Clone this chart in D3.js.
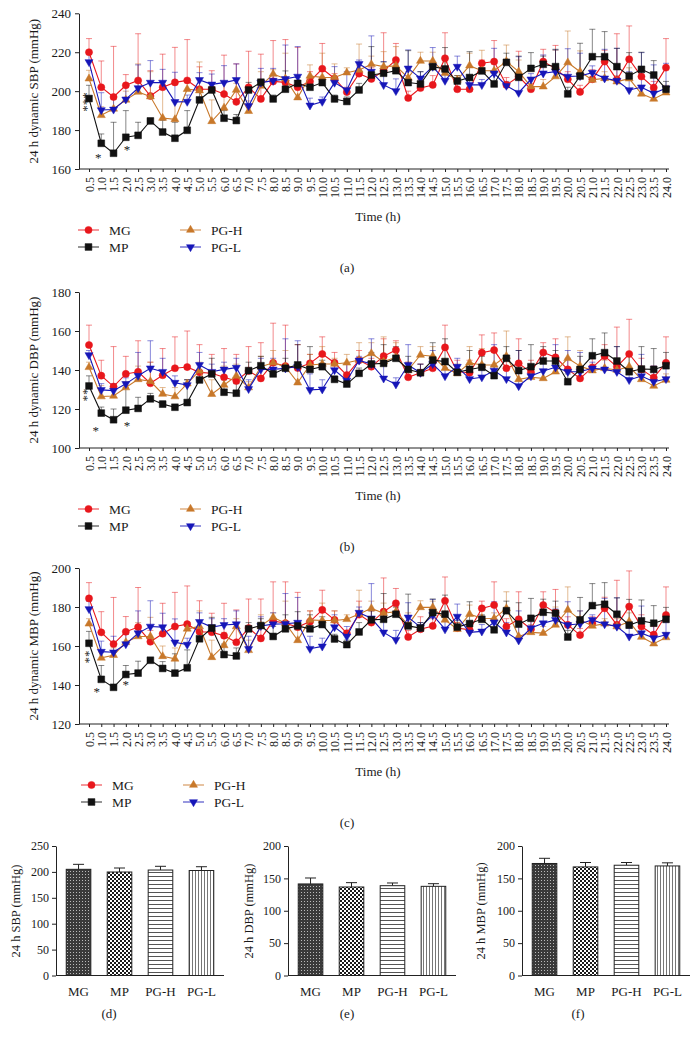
<!DOCTYPE html>
<html><head><meta charset="utf-8">
<script src="https://cdn.jsdelivr.net/npm/d3@7"></script>
<style>
body{margin:0;background:#fff}
svg{display:block}
text{font-family:"Liberation Serif","Times New Roman",Times,serif;fill:#1a1a1a}
</style>
</head><body>
<svg id="c" width="698" height="1038"></svg>
<script>
// ---------------- DATA ----------------
const times = d3.range(1, 49).map(i => i * 0.5);
const timeLabels = times.map(t => t.toFixed(1));
const groups = ["MG", "MP", "PG-H", "PG-L"];

// (a) SBP
const sbpMG = [220,202,197,203,205.5,197.5,202,204.5,205.5,201,201,198.5,194.5,202,196,205,204.5,202,205,211.5,206.5,199.5,209,206.3,210.4,216,196.5,201.6,203.2,216.9,201,201,214.3,215.2,203.2,207.5,201,215.2,211.7,206.1,199.6,206.1,215.2,205.8,216.4,207.5,201.8,212.1];
const sbpMGErr = [227,215.5,223,208.5,229.5,210.5,219,222.5,226.5,212.5,210.5,218.5,214,220.5,219,226,226.5,222.5,210,224.5,209,202,213,212,230,224.5,200,206,208,230,205,204,216,226,207,220.5,204,221.5,223.5,210,203,211,221,229.5,233.5,212,205,227];
const sbpMP = [196.2,173.2,168.1,176.3,177.3,184.7,179,175.8,179.9,195.5,200.6,186.1,184.9,200.6,204.6,196,201,204,202,204.4,196,194.7,200.6,208.3,209.2,210.5,204.4,203.7,212.6,211.4,205.2,207,210.4,203.7,214.8,207.1,211.7,213.8,212.6,198.6,207.8,217.7,217.7,212.6,207.8,211.2,208.3,201];
const sbpMPErr = [203,178,184,190,184,186,185,184,190,200,204,190,188,204.5,206,198,210.4,207,206,207,198,197,204,222.9,215,214,220.8,210,215,222.4,208,220.3,212,210,219.5,218,219.8,218,221.5,202,224.6,231.8,230.6,222,219.8,220,215.7,205];
const sbpPGH = [206.4,187.6,190.9,195.5,199.6,197.2,186.2,185.5,201,200.3,184.5,191.4,200.6,189.7,202.7,208.8,206.4,196.7,207.8,207.1,207,209.5,210.9,213.8,212.6,213,206.8,215.5,215.5,209.2,205.8,213.1,210.5,210.5,215.3,210,202.3,202.3,207.5,214.7,210,205.8,206.6,204.9,206.4,198.6,196,199.2];
const sbpPGHErr = [210.7,192,196,200,214,210,203.5,195,205,215,195.5,205,204,195,210,211,219.5,203,213.5,219.5,214,212,224.2,218,220.3,222.9,210,220,220,215,208,219.5,221,214,223.7,216,207,206,221,230.9,220.7,210,210,208,212,203,200,203];
const sbpPGL = [215,190.3,190.6,195.8,201.6,204.4,204.4,194.5,194.6,205.8,203.5,204.4,205.8,192.4,204.4,205.4,206.3,207.5,192.7,194.6,204.4,200.6,214,210,203.2,200.1,211.7,206.6,212.6,205.4,212.6,203.2,203.2,209.2,202.8,199.2,206.1,209.2,210,207.5,207.8,209.5,206.6,205.4,200.6,202,198.9,201.5];
const sbpPGLErr = [220,199.2,198,202,213.5,215.7,211.2,209.7,198,209.5,208.8,213.1,214,202.4,211.7,211.7,223.7,222.9,196.4,197,212.6,210,216,228.4,215.2,206.3,221.2,210,222.4,209,218,207,206,222,205,217.7,209,218.6,221.2,221.8,219.5,213,221.5,222,210,219.8,213.5,214.3];

// (b) DBP
const dbpMG = [152.8,137.1,131.5,138,139.1,133.2,137.3,140.9,141.5,138.8,138.3,136.3,134.4,139.5,135.7,143.7,142,141,143.4,148.2,143.7,137.4,145,141.7,147.1,150.2,136.3,138.6,140.9,151.6,139.1,138.6,148.9,150.2,140.9,143.4,138.8,149,146.5,140.3,135.7,141.2,147.1,141.7,148.2,140.3,136.1,143.7];
const dbpMGErr = [163,145,152,147,155,144,151,157,160,153,148,151,148,152,154,164,163,153,148,157,149,143,150,146,156,155,144,143,147,163,145,145,158,159,146,156,145,154,156,146,140,146,153,162,166,146,142,157];
const dbpMP = [131.8,117.9,114.5,119.4,120.3,125.2,122.5,120.9,123.3,134.9,138,128.6,128.1,139.7,142.2,138,140.9,142.6,140.3,141.7,135.2,132.8,138.3,143.1,143.4,146,140.3,138.6,145.1,144.3,138.8,140.3,141.4,137.1,146,139.7,141.7,144.6,144.6,134,140.3,147.3,148.9,144.6,139.1,140.5,140.3,142.2];
const dbpMPErr = [137,121,120,131,126,128,124,122,135,138,146,135,133,144,147,141,146,153,152,145,137,135,141,149,153,152,147,143,154,156,142,150,147,142,152,150,153,152,150,138,147,156,159,152,148,152,151,149];
const dbpPGH = [141.4,126.4,126.7,131,135.2,134.2,127.7,126.4,133,139.7,127.6,132.3,137,131,141.7,143.7,141.7,133.5,142.6,143.1,143.1,143.7,145.1,148.5,144.3,146.5,140,147.7,147.1,140.9,138.3,143.7,142.6,142.6,147.1,135.2,136.3,135.7,139.1,146,142,139.7,140.9,140,141.7,135.2,131.8,134.9];
const dbpPGHErr = [144,132,130,134,142,144,131,131,135,144,135,142,143,134,147,150,150,140,148,152,146,148,154,154,157,154,144,152,152,146,143,152,151,149,160,140,140,140,144,157,150,143,145,146,148,139,136,138];
const dbpPGL = [147.7,129.8,129.4,132.9,137.1,140.9,139.1,133.5,132.3,142.6,139.1,140.3,141.2,130.3,140.3,140.3,140.9,141.7,129.8,130.1,140,134.6,144.9,143.1,135.7,132.7,142.6,138.6,143.1,136.9,141.7,135.4,136.3,139.7,135.4,131.8,136.9,139.5,141.4,139.1,139.1,140.9,140.3,139.1,134.9,136.9,134,135.4];
const dbpPGLErr = [150,133,133,136,149,155,146,137,135,149,143,144,146,135,146,146,156,155,138,135,145,143,147,156,148,136,153,143,150,141,146,140,140,153,140,150,142,148,153,150,149,144,150,152,140,148,142,142];

// (c) MBP
const mbpMG = [184.4,167,161,167.3,169.7,162.2,166.3,170,171.2,167.3,167.1,165.3,161.9,169.2,163.9,172.9,171.7,169.7,172.5,178.5,173.4,166.5,176.1,172,177.6,181.9,164.6,168.6,170.3,183.2,169.2,168.3,179.3,181,170,173.7,168.6,181,177.1,170.8,165.6,171.7,179.3,170.8,180.2,170,165.8,175.9];
const mbpMGErr = [192.5,177.6,184.9,175.1,190,168,181.9,187.5,190.8,183.2,176.8,181.9,178.5,184.1,184.1,192.9,192.9,187.5,178,188.6,178,168,183,178,194.9,189.5,168,175,174,195.4,172,171,183,192.9,174,187.8,173,187.8,189,175,169,175,185,193.7,198.5,176,170,190.3];
const mbpMP = [161.4,142.9,138.8,145.4,146.1,152.7,148.5,146.1,148.8,163.7,169.2,155.6,154.9,168.8,170.5,164.9,168.8,170.3,168.8,171,163.6,160.7,167.2,173.4,173.7,176.3,170.3,169.2,177.1,176.3,169.7,171.5,173.7,168.3,178.1,171.2,174.2,177.3,176.8,164.6,173.4,180.7,181.4,176.3,170.7,172.9,171.7,173.7];
const mbpMPErr = [167.5,150,157.6,150,152.2,153.4,152,156,158,167,174.7,161,159,172,174,170,176,177.6,176,175,166,163,172,178,186.9,180,186.6,172,184.1,186.1,173,182.7,176,172,183,182.2,184.4,184,183,168,184.9,192,192.5,184.7,183.9,183.6,180.7,179.8];
const mbpPGH = [171.4,153.9,155.3,161.9,164.9,164.9,154.7,153.4,168.8,170,154.2,160.3,170,157.8,170.3,174.7,171.7,162.9,173.4,173.1,173.1,173.7,176.4,179.3,176.8,177.6,170.8,179.8,179.8,173.4,168.6,176.3,174.2,174.1,179.3,164.9,167,166.6,170.8,178.5,173.4,170.3,171.4,170,172.5,164.6,161.2,164.4];
const mbpPGHErr = [174,157,159,166,172,174.7,160,159,172,178,163,167,174,163,176,177,183,168,178,182,178,176,188.6,183,182,180,177,183.2,183,178,172,181,178,177,187.8,170,171,170,180,190.3,178,174,174,174,177,170,166,167];
const mbpPGL = [179,157.1,156.8,161,166.6,170,169.7,161.9,160.7,172.4,169.7,170.8,171.2,158.5,170.3,171.2,171.4,172,158.6,159.8,169.7,164.9,177.1,174.2,167,163.2,174.7,169.7,175.9,168.6,175.1,167,167.5,172.2,167,162.9,169.2,171.7,173.4,170.8,171.4,173.4,171.2,170,164.9,166.6,164.1,165.8];
const mbpPGLErr = [183,162.5,165,166,178,183.2,176.8,173.9,164,177,174,174,178,165,175,177,186.9,184.9,165,164,176,170,180,192,178,168,182.2,172,183.9,175,181.5,171,171,182.7,172,178,174,181,179,182.7,178,176,184.4,184.7,169,180.5,172,172];

// Line-panel y ticks
const sbpTicks = [160,180,200,220,240];
const dbpTicks = [100,120,140,160,180];
const mbpTicks = [120,140,160,180,200];

// Bar panels (24 h means)
const barSBP = [205,199.8,203.6,202.7];
const barSBPErr = [214.6,207.5,210.8,210];
const barDBP = [141.4,136.7,138.7,137.7];
const barDBPErr = [150.6,143.4,142.9,141.8];
const barMBP = [173,167.7,170.3,169.2];
const barMBPErr = [181,174.5,174.5,174];
const barSBPTicks = [0,50,100,150,200,250];
const barDBPTicks = [0,50,100,150,200];
const barMBPTicks = [0,50,100,150,200];

// significance marks [time, value, text, vertical]
const sigA = [[0.25,194.4,"***",true],[0.88,167.2,"*",false],[2.05,171.3,"*",false]];
const sigB = [[0.25,127.2,"**",true],[0.78,110.3,"*",false],[2.05,112.8,"*",false]];
const sigC = [[0.35,154.4,"**",true],[0.82,138,"*",false],[2.0,141.5,"*",false]];

// ---------------- STYLE ----------------
const colors = ["#e8171c", "#111111", "#c8782a", "#1616b8"];
const symbols = [d3.symbolCircle, d3.symbolSquare, d3.symbolTriangle, d3.symbolTriangle];
const symSize = [40, 46, 28, 28];
const symRot = [0, 0, 0, 180];
const FONT = '"Liberation Serif","Times New Roman",Times,serif';

const svg = d3.select("#c");
const defs = svg.append("defs");

function marker(g, i, x, y) {
  g.append("path")
    .attr("d", d3.symbol().type(symbols[i]).size(symSize[i])())
    .attr("transform", `translate(${x},${y}) rotate(${symRot[i]})`)
    .attr("fill", colors[i]).attr("stroke", colors[i]).attr("stroke-width", 0.5);
}

function linePanel(cfg) {
  const g = svg.append("g");
  const x = d3.scaleLinear().domain([0.5, 24]).range([89, 666]);
  const y = d3.scaleLinear().domain(cfg.domain).range([cfg.bottom, cfg.top]);
  // y axis
  const ya = g.append("g").attr("transform", "translate(79,0)")
    .call(d3.axisLeft(y).tickValues(cfg.ticks).tickSize(4).tickSizeOuter(0).tickPadding(4));
  ya.select(".domain").attr("stroke", "#222");
  ya.selectAll(".tick line").attr("stroke", "#222");
  ya.selectAll(".tick text").style("font-family", FONT).style("font-size", "13px").attr("fill", "#1a1a1a");
  // x axis
  const xa = g.append("g").attr("transform", `translate(0,${cfg.bottom})`)
    .call(d3.axisBottom(x).tickValues(times).tickSize(3).tickFormat((d, i) => timeLabels[i]));
  xa.select(".domain").remove();
  xa.append("line").attr("x1", 79).attr("x2", 669).attr("stroke", "#222");
  xa.selectAll(".tick line").attr("stroke", "#222");
  xa.selectAll(".tick text")
    .style("font-family", FONT).style("font-size", "12px").attr("fill", "#1a1a1a")
    .attr("transform", "rotate(-90)").attr("text-anchor", "end")
    .attr("x", -8).attr("y", 0).attr("dy", "0.35em");
  // titles
  g.append("text").attr("transform", `translate(33,${(cfg.top + cfg.bottom) / 2}) rotate(-90)`)
    .attr("text-anchor", "middle").attr("dy", "0.35em").style("font-size", "13px").text(cfg.title);
  g.append("text").attr("x", 378).attr("y", cfg.bottom + 52).attr("text-anchor", "middle")
    .style("font-size", "13px").text("Time (h)");
  g.append("text").attr("x", 347).attr("y", cfg.bottom + 103).attr("text-anchor", "middle")
    .style("font-size", "13px").text(cfg.label);

  // error bars
  const order = [0, 2, 3, 1];
  order.forEach(i => {
    const eg = g.append("g").attr("stroke", colors[i]).attr("stroke-opacity", 0.5).attr("stroke-width", 1);
    cfg.means[i].forEach((m, k) => {
      const e = cfg.errs[i][k];
      const xx = x(times[k]);
      if (e > m) {
        eg.append("line").attr("x1", xx).attr("x2", xx).attr("y1", y(m)).attr("y2", y(e));
        eg.append("line").attr("x1", xx - 3).attr("x2", xx + 3).attr("y1", y(e)).attr("y2", y(e));
      }
    });
  });
  // lines + markers
  order.forEach(i => {
    const line = d3.line().x((d, k) => x(times[k])).y(d => y(d));
    g.append("path").datum(cfg.means[i]).attr("d", line)
      .attr("fill", "none").attr("stroke", colors[i]).attr("stroke-width", 1.1);
    const mg = g.append("g");
    cfg.means[i].forEach((m, k) => marker(mg, i, x(times[k]), y(m)));
  });
  // significance
  cfg.sig.forEach(s => {
    const xx = x(s[0]), yy = y(s[1]);
    if (s[3]) {
      g.append("text").attr("transform", `translate(${xx},${yy}) rotate(-90)`)
        .attr("text-anchor", "middle").attr("dy", "0.6em").style("font-size", "13px").text(s[2]);
    } else {
      g.append("text").attr("x", xx).attr("y", yy).attr("text-anchor", "middle")
        .attr("dy", "0.55em").style("font-size", "13px").text(s[2]);
    }
  });
  // legend
  const ly = cfg.bottom + 61;
  const lx = cfg.legendX;
  const lpos = [[lx, ly], [lx, ly + 17], [lx + 102, ly], [lx + 102, ly + 17]];
  groups.forEach((name, i) => {
    const [px, py] = lpos[i];
    g.append("line").attr("x1", px).attr("x2", px + 21).attr("y1", py).attr("y2", py)
      .attr("stroke", colors[i]).attr("stroke-width", 1.1).attr("stroke-opacity", 0.8);
    marker(g, i, px + 10.5, py);
    g.append("text").attr("x", px + 31).attr("y", py).attr("dy", "0.35em")
      .style("font-size", "13.5px").text(name);
  });
}

linePanel({top: 13.3, bottom: 169, domain: [160, 240], ticks: sbpTicks, title: "24 h dynamic SBP (mmHg)", label: "(a)",
  means: [sbpMG, sbpMP, sbpPGH, sbpPGL], errs: [sbpMGErr, sbpMPErr, sbpPGHErr, sbpPGLErr], sig: sigA, legendX: 78});
linePanel({top: 292, bottom: 448, domain: [100, 180], ticks: dbpTicks, title: "24 h dynamic DBP (mmHg)", label: "(b)",
  means: [dbpMG, dbpMP, dbpPGH, dbpPGL], errs: [dbpMGErr, dbpMPErr, dbpPGHErr, dbpPGLErr], sig: sigB, legendX: 78});
linePanel({top: 568, bottom: 724, domain: [120, 200], ticks: mbpTicks, title: "24 h dynamic MBP (mmHg)", label: "(c)",
  means: [mbpMG, mbpMP, mbpPGH, mbpPGL], errs: [mbpMGErr, mbpMPErr, mbpPGHErr, mbpPGLErr], sig: sigC, legendX: 81});

// ---------------- patterns ----------------
function pattern(id, w, h, fn) {
  const p = defs.append("pattern").attr("id", id).attr("patternUnits", "userSpaceOnUse")
    .attr("width", w).attr("height", h);
  fn(p);
}
pattern("pMG", 3, 3, p => {
  p.append("rect").attr("width", 3).attr("height", 3).attr("fill", "#3a3a3a");
  p.append("rect").attr("x", 1).attr("y", 1).attr("width", 1).attr("height", 1).attr("fill", "#bbb");
});
pattern("pMP", 4, 4, p => {
  p.append("rect").attr("width", 4).attr("height", 4).attr("fill", "#fff");
  p.append("rect").attr("width", 2).attr("height", 2).attr("fill", "#1a1a1a");
  p.append("rect").attr("x", 2).attr("y", 2).attr("width", 2).attr("height", 2).attr("fill", "#1a1a1a");
});
pattern("pPGH", 4, 4, p => {
  p.append("rect").attr("width", 4).attr("height", 4).attr("fill", "#fff");
  p.append("rect").attr("y", 0).attr("width", 4).attr("height", 1).attr("fill", "#555");
});
pattern("pPGL", 3, 3, p => {
  p.append("rect").attr("width", 3).attr("height", 3).attr("fill", "#fff");
  p.append("rect").attr("x", 0).attr("width", 1).attr("height", 3).attr("fill", "#777");
});
const fills = ["url(#pMG)", "url(#pMP)", "url(#pPGH)", "url(#pPGL)"];

function barPanel(cfg) {
  const g = svg.append("g");
  const x = d3.scaleBand().domain(groups).range([cfg.x0, cfg.x0 + 168]).paddingInner(0.4).paddingOuter(0.25);
  const y = d3.scaleLinear().domain(cfg.domain).range([975.5, 846]);
  const ya = g.append("g").attr("transform", `translate(${cfg.x0},0)`)
    .call(d3.axisLeft(y).tickValues(cfg.ticks).tickSize(4).tickSizeOuter(0).tickPadding(3));
  ya.select(".domain").attr("stroke", "#222");
  ya.selectAll(".tick line").attr("stroke", "#222");
  ya.selectAll(".tick text").style("font-family", FONT).style("font-size", "12px").attr("fill", "#1a1a1a");
  g.append("line").attr("x1", cfg.x0).attr("x2", cfg.x0 + 168).attr("y1", 975.5).attr("y2", 975.5).attr("stroke", "#222");
  groups.forEach((name, i) => {
    const bx = x(name), bw = x.bandwidth();
    const cx = bx + bw / 2;
    g.append("line").attr("x1", cx).attr("x2", cx).attr("y1", y(cfg.values[i])).attr("y2", y(cfg.errs[i])).attr("stroke", "#222");
    g.append("line").attr("x1", cx - 5.5).attr("x2", cx + 5.5).attr("y1", y(cfg.errs[i])).attr("y2", y(cfg.errs[i])).attr("stroke", "#222");
    g.append("rect").attr("x", bx).attr("y", y(cfg.values[i])).attr("width", bw).attr("height", y(0) - y(cfg.values[i]))
      .attr("fill", fills[i]).attr("stroke", "#222").attr("stroke-width", 1);
    g.append("text").attr("x", cx).attr("y", 991).attr("dy", "0.35em").attr("text-anchor", "middle")
      .style("font-size", "13px").text(name);
  });
  g.append("text").attr("transform", `translate(${cfg.titleX},911) rotate(-90)`).attr("text-anchor", "middle")
    .attr("dy", "0.35em").style("font-size", "12.5px").text(cfg.title);
  g.append("text").attr("x", cfg.labelX).attr("y", 1013).attr("dy", "0.35em").attr("text-anchor", "middle")
    .style("font-size", "13px").text(cfg.label);
}

barPanel({x0: 56, domain: [0, 250], ticks: barSBPTicks, values: barSBP, errs: barSBPErr, title: "24 h SBP (mmHg)", titleX: 15.5, label: "(d)", labelX: 109});
barPanel({x0: 288, domain: [0, 200], ticks: barDBPTicks, values: barDBP, errs: barDBPErr, title: "24 h DBP (mmHg)", titleX: 249, label: "(e)", labelX: 347});
barPanel({x0: 522, domain: [0, 200], ticks: barMBPTicks, values: barMBP, errs: barMBPErr, title: "24 h MBP (mmHg)", titleX: 481, label: "(f)", labelX: 578});
</script>
</body></html>
